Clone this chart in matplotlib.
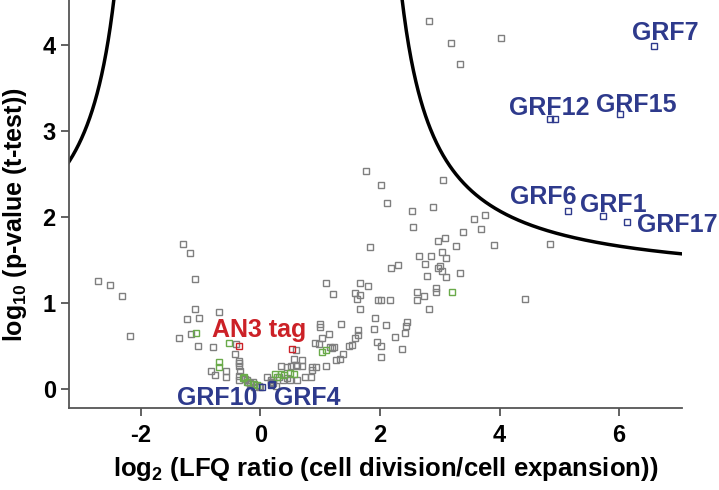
import numpy as np
import matplotlib
matplotlib.use("Agg")
import matplotlib.pyplot as plt

plt.rcParams['font.family'] = ['Liberation Sans', 'DejaVu Sans']
plt.rcParams['font.weight'] = 'bold'
plt.rcParams['mathtext.fontset'] = 'custom'
plt.rcParams['mathtext.rm'] = 'Liberation Sans:bold'
plt.rcParams['mathtext.bf'] = 'Liberation Sans:bold'
plt.rcParams['mathtext.default'] = 'rm'
plt.rcParams['axes.unicode_minus'] = False

# other proteins (grey)
grey_x = [2.82, 3.19, 4.02, 3.34,
          1.77, 2.01, 3.06, 2.12, 2.53, 2.89, 2.55, 3.58, 3.76, 3.38, 3.69, 2.97, 3.08, 1.83, 3.27, 3.90, 4.84,
          2.65, 2.85, 3.04, 3.11,
          2.19, 2.30, 2.76, 2.97, 3.01, 3.03, 2.79, 3.11, 3.34,
          1.67, 1.80, 2.62, 2.94, 2.94, 2.73, 2.62, 1.67, 1.96, 2.01, 2.16, 4.43, 1.67, 2.82,
          1.91, 1.90, 2.10, 2.45, 2.44, 2.41, 2.25, 1.95, 2.02, 2.37, 2.01,
          1.21, 1.59, 1.62, 1.10,
          1.34, 1.64, 1.63, 1.58, 1.17, 1.49, 1.53, 1.38, 1.27, 1.33,
          1.00, 1.00, 1.14, 0.91, 0.98, 1.03, 1.19, 1.23,
          0.93, 0.86, 0.86, 1.09,
          0.59, 0.56, 0.70, 0.60,
          0.35, 0.45, 0.52, 0.61, 0.70,
          0.11, 0.17, 0.21, 0.31, 0.37, 0.45, 0.49, 0.62, 0.75, 0.85, 0.17, 0.21, 0.26,
          -1.29, -1.18, -2.71, -2.52, -1.10, -2.31, -1.10, -0.70, -1.23, -1.03, -2.18, -1.16, -1.36, -1.05, -0.80,
          -0.82, -0.76, -0.57, -0.57,
          -0.41, -0.42, -0.36, -0.35, -0.35, -0.34, -0.35, -0.35,
          -0.26, -0.22, -0.21, -0.17, -0.13, -0.18, -0.10, -0.01, -0.03]
grey_y = [4.28, 4.02, 4.08, 3.78,
          2.53, 2.37, 2.43, 2.16, 2.07, 2.12, 1.88, 1.98, 2.02, 1.82, 1.86, 1.72, 1.75, 1.65, 1.66, 1.67, 1.68,
          1.55, 1.55, 1.59, 1.52,
          1.41, 1.44, 1.45, 1.41, 1.43, 1.37, 1.31, 1.30, 1.35,
          1.23, 1.20, 1.13, 1.17, 1.13, 1.08, 1.03, 1.09, 1.03, 1.03, 1.03, 1.05, 0.93, 0.93,
          0.83, 0.70, 0.74, 0.78, 0.73, 0.65, 0.60, 0.55, 0.50, 0.46, 0.37,
          1.10, 1.12, 1.04, 1.23,
          0.76, 0.68, 0.63, 0.59, 0.49, 0.50, 0.51, 0.41, 0.34, 0.35,
          0.75, 0.72, 0.64, 0.53, 0.52, 0.59, 0.48, 0.49,
          0.25, 0.25, 0.22, 0.27,
          0.45, 0.35, 0.34, 0.28,
          0.27, 0.25, 0.27, 0.27, 0.27,
          0.14, 0.11, 0.11, 0.14, 0.10, 0.13, 0.10, 0.10, 0.14, 0.14, 0.08, 0.07, 0.04,
          1.69, 1.58, 1.26, 1.21, 1.28, 1.08, 0.93, 0.89, 0.81, 0.82, 0.62, 0.64, 0.59, 0.50, 0.49,
          0.21, 0.16, 0.21, 0.14,
          0.52, 0.41, 0.33, 0.30, 0.27, 0.21, 0.15, 0.11,
          0.12, 0.10, 0.08, 0.07, 0.08, 0.06, 0.02, 0.02, 0.04]

# green proteins
green_x = [-1.07, -0.53, -0.70, -0.70, -0.29, -0.27, -0.23, -0.11, -0.06,
           0.24, 0.28, 0.35, 0.39, 0.50, 0.57, 1.03, 1.10, 3.21]
green_y = [0.65, 0.53, 0.31, 0.25, 0.13, 0.14, 0.08, 0.06, 0.05,
           0.18, 0.14, 0.17, 0.16, 0.19, 0.18, 0.43, 0.45, 1.13]

# AN3 tag (red)
red_x = [-0.36, 0.53]
red_y = [0.50, 0.47]

# GRFs (blue)
grf_x = [6.59, 4.85, 4.92, 6.02, 5.14, 5.73, 6.13, 0.02, 0.17, 0.20]
grf_y = [3.98, 3.14, 3.14, 3.19, 2.07, 2.01, 1.94, 0.02, 0.05, 0.06]

# label texts and anchor (left, baseline)
labels = ["GRF7", "GRF12", "GRF15", "GRF6", "GRF1", "GRF17", "GRF10", "GRF4", "AN3 tag"]
label_x = [6.22, 4.15, 5.62, 4.18, 5.35, 6.30, -1.39, 0.22, -0.81]
label_y = [4.06, 3.18, 3.22, 2.15, 2.06, 1.83, -0.19, -0.19, 0.61]

blue = '#2e3a8c'
red = '#cc2127'

fig = plt.figure(figsize=(7.19, 4.9), dpi=100)
ax = fig.add_axes([0.096, 0.168, 0.8525, 0.832])

# significance curves
xl = np.linspace(-3.3, -1.93, 400)
xr = np.linspace(1.85, 7.2, 400)
ax.plot(xl, 1.21 + 1.89 / (np.abs(xl + 0.08) - 1.8), color='k', lw=2.5)
ax.plot(xr, 1.21 + 1.89 / (np.abs(xr) - 1.8), color='k', lw=2.5)

ax.plot(grey_x, grey_y, 's', mfc='none', mec='#7f7f7f', ms=5, mew=1.0)
ax.plot(green_x, green_y, 's', mfc='none', mec='#6aaa4a', ms=5, mew=1.0)
ax.plot(red_x, red_y, 's', mfc='none', mec=red, ms=5, mew=1.0)
ax.plot(grf_x, grf_y, 's', mfc='none', mec=blue, ms=4.5, mew=1.0)

for t, x, y in zip(labels, label_x, label_y):
    ax.text(x, y, t, color=red if t.startswith("AN3") else blue,
            fontsize=18, fontweight='bold', ha='left', va='baseline')

ax.set_xlim(-3.2, 7.05)
ax.set_ylim(-0.217, 4.52)
ax.set_xticks([-2, 0, 2, 4, 6])
ax.set_yticks([0, 1, 2, 3, 4])
ax.spines['top'].set_visible(False)
ax.spines['right'].set_visible(False)
for s in ['left', 'bottom']:
    ax.spines[s].set_color('#555555')
    ax.spines[s].set_linewidth(1.3)
ax.tick_params(direction='out', length=5.5, width=1.3, color='#555555',
               labelsize=17)
ax.tick_params(axis='x', pad=6)
ax.tick_params(axis='y', pad=4)
for lab in ax.get_xticklabels() + ax.get_yticklabels():
    lab.set_fontweight('bold')

fig.text(386 / 719, 1 - 469 / 490, 'log$_{2}$ (LFQ ratio (cell division/cell expansion))',
         fontsize=18.5, fontweight='bold', ha='center', va='center')
fig.text(15 / 719, 1 - 215 / 490, 'log$_{10}$ (p-value (t-test))',
         fontsize=18, fontweight='bold', ha='center', va='center', rotation=90)

fig.savefig('out.png', dpi=100)
